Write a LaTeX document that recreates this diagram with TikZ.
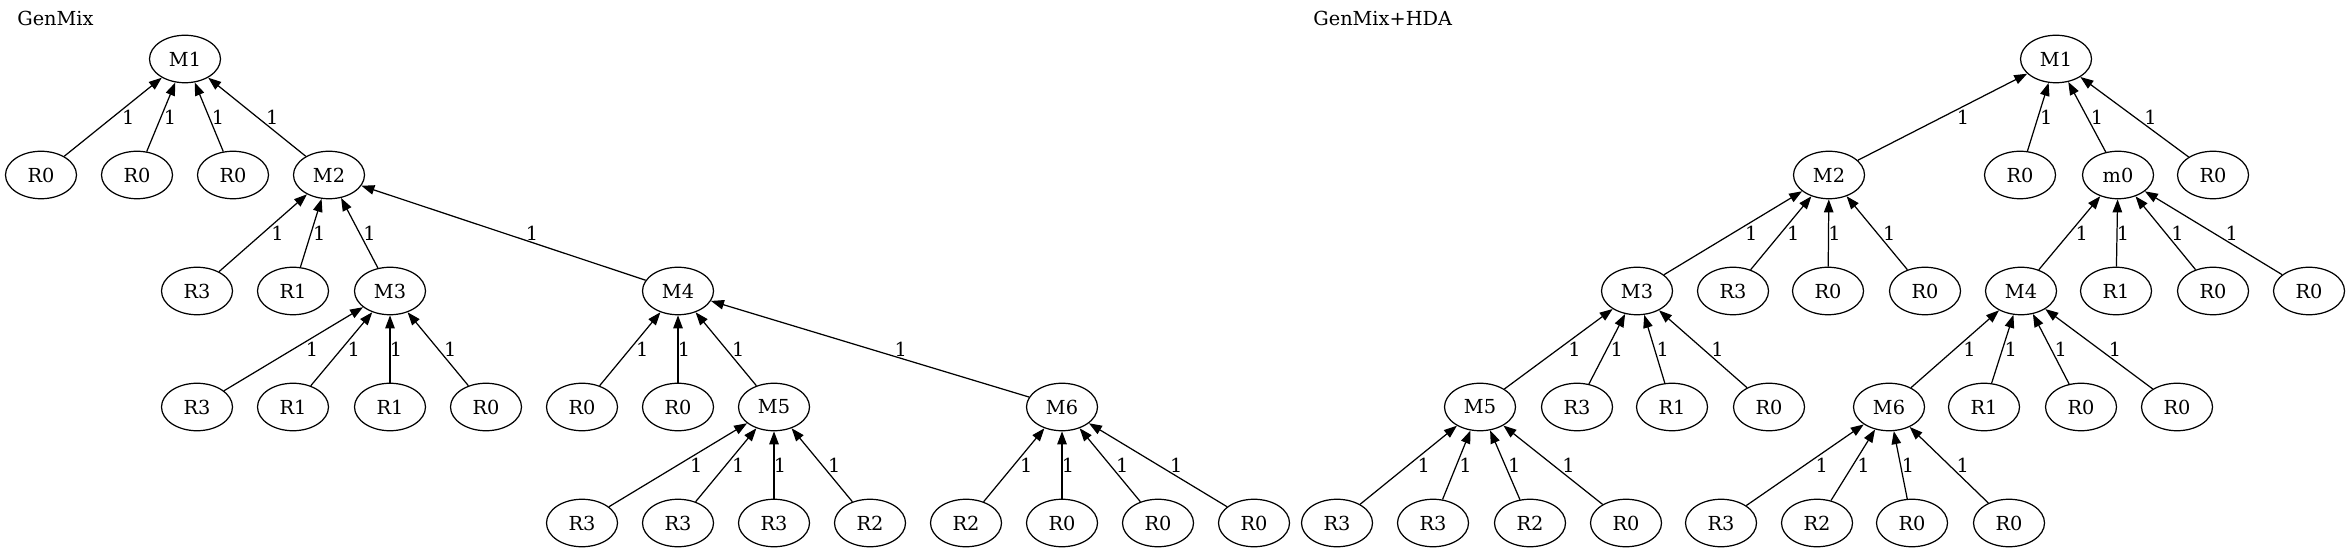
\documentclass[tikz,border=0pt]{standalone}
\usepackage{fontspec}
\setmainfont{DejaVu Serif}
\usetikzlibrary{shapes.geometric,arrows.meta,calc}

\begin{document}
\begin{tikzpicture}[x=0.02cm, y=-0.02cm,
	every node/.style={font=\fontsize{11}{13}\selectfont},
	vtx/.style={draw, ellipse, line width=0.7pt, inner sep=0pt, minimum width=1.42cm, minimum height=0.95cm},
	link/.style={line width=0.7pt, -{Triangle[length=7.4pt,width=5.4pt]}},
	wt/.style={midway, inner sep=0pt}]
	\useasboundingbox (0,0) rectangle (2351,553);
	\node[anchor=base west, inner sep=0pt] (title1) at (17,26) {GenMix};
	\node[anchor=base west, inner sep=0pt] (title2) at (1313,26) {GenMix+HDA};
	% GenMix
	\node[vtx] (gM1) at (185,59) {M1};
	\node[vtx] (gA) at (41,175) {R0};
	\node[vtx] (gB) at (137,175) {R0};
	\node[vtx] (gC) at (233,175) {R0};
	\node[vtx] (gM2) at (329,175) {M2};
	\node[vtx] (gD) at (197,291) {R3};
	\node[vtx] (gE) at (293,291) {R1};
	\node[vtx] (gM3) at (390,291) {M3};
	\node[vtx] (gM4) at (678,291) {M4};
	\node[vtx] (gF) at (197,407) {R3};
	\node[vtx] (gG) at (293,407) {R1};
	\node[vtx] (gH) at (390,407) {R1};
	\node[vtx] (gI) at (486,407) {R0};
	\node[vtx] (gJ) at (582,407) {R0};
	\node[vtx] (gK) at (678,407) {R0};
	\node[vtx] (gM5) at (774,407) {M5};
	\node[vtx] (gM6) at (1062,407) {M6};
	\node[vtx] (gL) at (582,523) {R3};
	\node[vtx] (gN) at (678,523) {R3};
	\node[vtx] (gO) at (774,523) {R3};
	\node[vtx] (gP) at (870,523) {R2};
	\node[vtx] (gQ) at (966,523) {R2};
	\node[vtx] (gR) at (1062,523) {R0};
	\node[vtx] (gS) at (1158,523) {R0};
	\node[vtx] (gT) at (1254,523) {R0};
	% GenMix+HDA
	\node[vtx] (hM1) at (2056,59) {M1};
	\node[vtx] (hM2) at (1829,175) {M2};
	\node[vtx] (hA) at (2020,175) {R0};
	\node[vtx] (hm0) at (2118,175) {m0};
	\node[vtx] (hB) at (2213,175) {R0};
	\node[vtx] (hM3) at (1637,291) {M3};
	\node[vtx] (hC) at (1733,291) {R3};
	\node[vtx] (hD) at (1828,291) {R0};
	\node[vtx] (hE) at (1925,291) {R0};
	\node[vtx] (hM4) at (2021,291) {M4};
	\node[vtx] (hF) at (2116,291) {R1};
	\node[vtx] (hG) at (2213,291) {R0};
	\node[vtx] (hH) at (2309,291) {R0};
	\node[vtx] (hM5) at (1480,407) {M5};
	\node[vtx] (hI) at (1577,407) {R3};
	\node[vtx] (hJ) at (1672,407) {R1};
	\node[vtx] (hK) at (1769,407) {R0};
	\node[vtx] (hM6) at (1889,407) {M6};
	\node[vtx] (hL) at (1984,407) {R1};
	\node[vtx] (hN) at (2081,407) {R0};
	\node[vtx] (hO) at (2177,407) {R0};
	\node[vtx] (hP) at (1337,523) {R3};
	\node[vtx] (hQ) at (1433,523) {R3};
	\node[vtx] (hR) at (1530,523) {R2};
	\node[vtx] (hS) at (1626,523) {R0};
	\node[vtx] (hT) at (1721,523) {R3};
	\node[vtx] (hU) at (1817,523) {R2};
	\node[vtx] (hV) at (1912,523) {R0};
	\node[vtx] (hW) at (2009,523) {R0};
	% edges, child -> parent
	\foreach \cn/\pn in {gA/gM1, gB/gM1, gC/gM1, gM2/gM1,
		gD/gM2, gE/gM2, gM3/gM2, gM4/gM2,
		gF/gM3, gG/gM3, gH/gM3, gI/gM3,
		gJ/gM4, gK/gM4, gM5/gM4, gM6/gM4,
		gL/gM5, gN/gM5, gO/gM5, gP/gM5,
		gQ/gM6, gR/gM6, gS/gM6, gT/gM6,
		hM2/hM1, hA/hM1, hm0/hM1, hB/hM1,
		hM3/hM2, hC/hM2, hD/hM2, hE/hM2,
		hM4/hm0, hF/hm0, hG/hm0, hH/hm0,
		hM5/hM3, hI/hM3, hJ/hM3, hK/hM3,
		hM6/hM4, hL/hM4, hN/hM4, hO/hM4,
		hP/hM5, hQ/hM5, hR/hM5, hS/hM5,
		hT/hM6, hU/hM6, hV/hM6, hW/hM6}
		\draw[link] let \p1=(\cn), \p2=(\pn), \n1={3.4+4.25*abs(\x2-\x1)/abs(\y2-\y1)} in
			(\cn) -- (\pn) node[wt, xshift={\n1*1pt}] {1};
\end{tikzpicture}
\end{document}
